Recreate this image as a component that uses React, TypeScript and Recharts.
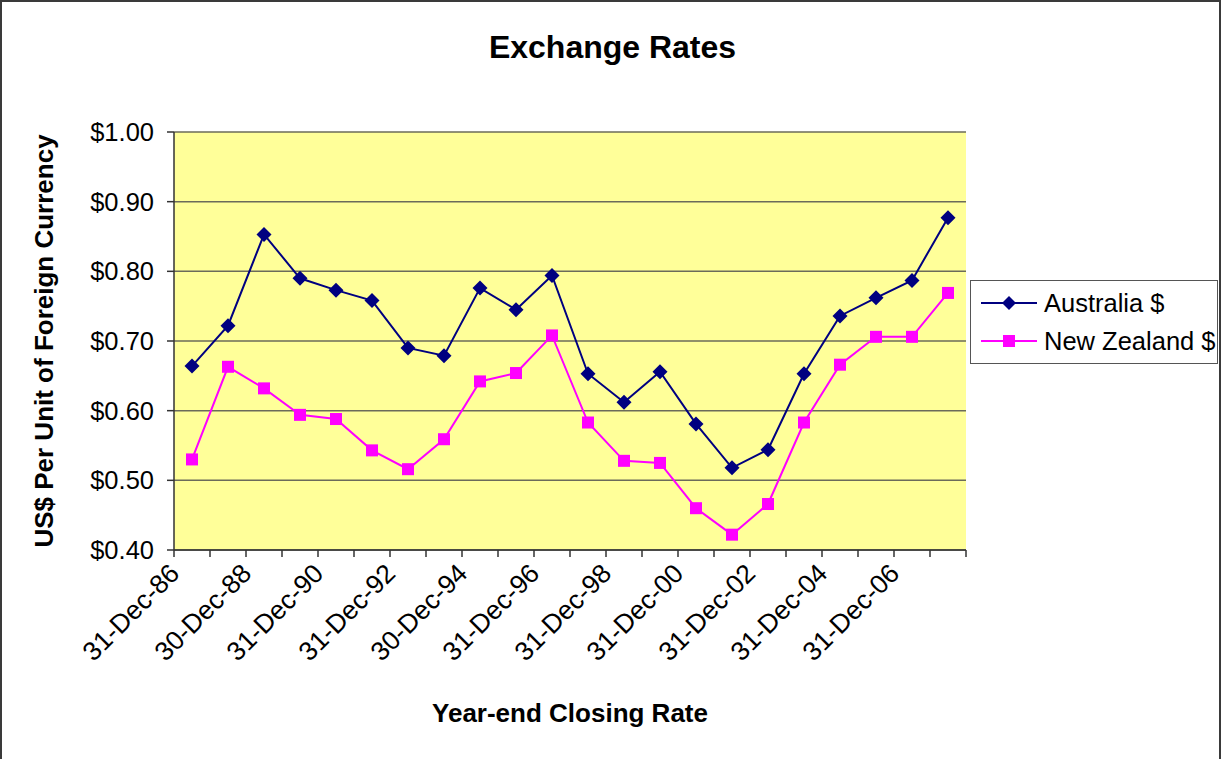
import React from "react";
import { CartesianGrid, Label, Legend, Line, LineChart, XAxis, YAxis } from "recharts";

const dates = [
  "31-Dec-86", "31-Dec-87", "30-Dec-88", "29-Dec-89", "31-Dec-90", "31-Dec-91",
  "31-Dec-92", "31-Dec-93", "30-Dec-94", "29-Dec-95", "31-Dec-96", "31-Dec-97",
  "31-Dec-98", "31-Dec-99", "31-Dec-00", "31-Dec-01", "31-Dec-02", "31-Dec-03",
  "31-Dec-04", "30-Dec-05", "31-Dec-06", "31-Dec-07"
];
const australia = [
  0.664, 0.722, 0.853, 0.790, 0.773, 0.758, 0.690, 0.679, 0.776, 0.745, 0.794,
  0.653, 0.612, 0.656, 0.581, 0.518, 0.544, 0.653, 0.736, 0.762, 0.787, 0.877
];
const newZealand = [
  0.530, 0.663, 0.632, 0.594, 0.588, 0.543, 0.516, 0.559, 0.642, 0.654, 0.708,
  0.583, 0.528, 0.525, 0.460, 0.422, 0.466, 0.583, 0.666, 0.706, 0.706, 0.769
];
const yTicks = [0.4, 0.5, 0.6, 0.7, 0.8, 0.9, 1.0];

const data = dates.map((date, i) => ({ date, aus: australia[i], nz: newZealand[i] }));

const font = "'Liberation Sans', Arial, sans-serif";
const W = 1225;
const H = 759;
const margin = { top: 132, right: 259, bottom: 0, left: 0 };
const halfBand = (W - 174 - margin.right) / dates.length / 2;

function Diamond({ cx, cy, size = 7.5, color = "#000080" }: any) {
  if (cx == null || cy == null) return null;
  return <path d={`M${cx},${cy - size}L${cx + size},${cy}L${cx},${cy + size}L${cx - size},${cy}Z`} fill={color} />;
}

function Square({ cx, cy, size = 6, color = "#FF00FF" }: any) {
  if (cx == null || cy == null) return null;
  return <rect x={cx - size} y={cy - size} width={size * 2} height={size * 2} fill={color} />;
}

function DateTick(props: any) {
  const { x, y, payload } = props;
  const half = payload.offset || halfBand;
  const i = payload.index;
  return (
    <g>
      <line x1={x - half} x2={x - half} y1={y} y2={y + 7} stroke="#333" strokeWidth={1.5} />
      {i === dates.length - 1 && (
        <line x1={x + half} x2={x + half} y1={y} y2={y + 7} stroke="#333" strokeWidth={1.5} />
      )}
      {i % 2 === 0 && (
        <text
          transform={`translate(${x - 11},${y + 25}) rotate(-45)`}
          textAnchor="end"
          fontSize={26.5}
          fontFamily={font}
          fill="#000"
        >
          {payload.value}
        </text>
      )}
    </g>
  );
}

function LegendBox({ payload }: any) {
  const items = payload || [];
  return (
    <div
      style={{
        border: "1.5px solid #555",
        background: "#fff",
        padding: "3px 0",
        fontFamily: font,
        fontSize: 25.5,
        color: "#000"
      }}
    >
      {items.map((item: any) => (
        <div key={item.value} style={{ display: "flex", alignItems: "center", height: 38 }}>
          <svg width={69} height={20} style={{ marginLeft: 4 }}>
            <line x1={6} x2={62} y1={10} y2={10} stroke={item.color} strokeWidth={2} />
            {item.dataKey === "aus" ? (
              <Diamond cx={34} cy={10} size={7} color={item.color} />
            ) : (
              <Square cx={34} cy={10} size={6} color={item.color} />
            )}
          </svg>
          <span>{item.value}</span>
        </div>
      ))}
    </div>
  );
}

export default function App() {
  return (
    <div style={{ position: "absolute", left: 0, top: 0, width: W, height: H, background: "#fff" }}>
      <div
        style={{
          position: "absolute",
          left: 0,
          top: 0,
          width: 1217,
          height: H,
          borderTop: "2px solid #3a3a3a",
          borderLeft: "2px solid #3a3a3a",
          borderRight: "2px solid #3a3a3a",
          pointerEvents: "none"
        }}
      />
      <div
        style={{
          position: "absolute",
          left: 0,
          top: 29,
          width: W,
          textAlign: "center",
          fontFamily: font,
          fontWeight: "bold",
          fontSize: 32,
          lineHeight: "36px"
        }}
      >
        Exchange Rates
      </div>
      <LineChart width={W} height={H} data={data} margin={margin}>
        <CartesianGrid vertical={false} fill="#FFFF99" stroke="#6b6b5a" strokeWidth={1.5} />
        <XAxis
          dataKey="date"
          scale="band"
          interval={0}
          height={209}
          tickSize={0}
          tickMargin={0}
          tickLine={false}
          axisLine={{ stroke: "#333", strokeWidth: 1.5 }}
          tick={<DateTick />}
        >
          <Label
            content={({ viewBox }: any) => (
              <text
                x={viewBox.x + viewBox.width / 2}
                y={viewBox.y + 163}
                textAnchor="middle"
                dominantBaseline="central"
                fontFamily={font}
                fontWeight="bold"
                fontSize={26}
                fill="#000"
              >
                Year-end Closing Rate
              </text>
            )}
          />
        </XAxis>
        <YAxis
          domain={[0.4, 1]}
          ticks={yTicks}
          width={174}
          tickSize={7}
          tickMargin={13}
          tickFormatter={(v: number) => "$" + v.toFixed(2)}
          axisLine={{ stroke: "#333", strokeWidth: 1.5 }}
          tickLine={{ stroke: "#333", strokeWidth: 1.5 }}
          tick={{ fontSize: 25.5, fill: "#000", fontFamily: font }}
        >
          <Label
            content={({ viewBox }: any) => {
              const cx = viewBox.x + 44;
              const cy = viewBox.y + viewBox.height / 2;
              return (
                <text
                  x={cx}
                  y={cy}
                  transform={`rotate(-90, ${cx}, ${cy})`}
                  textAnchor="middle"
                  dominantBaseline="central"
                  fontFamily={font}
                  fontWeight="bold"
                  fontSize={26}
                  fill="#000"
                >
                  US$ Per Unit of Foreign Currency
                </text>
              );
            }}
          />
        </YAxis>
        <YAxis
          yAxisId="frame"
          orientation="right"
          width={0}
          domain={[0.4, 1]}
          tick={false}
          tickLine={false}
          axisLine={{ stroke: "#8a8a8a", strokeWidth: 1.5 }}
        />
        <Legend
          layout="vertical"
          align="center"
          verticalAlign="middle"
          wrapperStyle={{ left: 970, top: 280, width: 248 }}
          content={(props: any) => <LegendBox {...props} />}
        />
        <Line
          name="Australia $"
          dataKey="aus"
          type="linear"
          stroke="#000080"
          strokeWidth={2}
          dot={(p: any) => <Diamond key={p.index} cx={p.cx} cy={p.cy} />}
          activeDot={false}
          isAnimationActive={false}
        />
        <Line
          name="New Zealand $"
          dataKey="nz"
          type="linear"
          stroke="#FF00FF"
          strokeWidth={2}
          dot={(p: any) => <Square key={p.index} cx={p.cx} cy={p.cy} />}
          activeDot={false}
          isAnimationActive={false}
        />
      </LineChart>
    </div>
  );
}
